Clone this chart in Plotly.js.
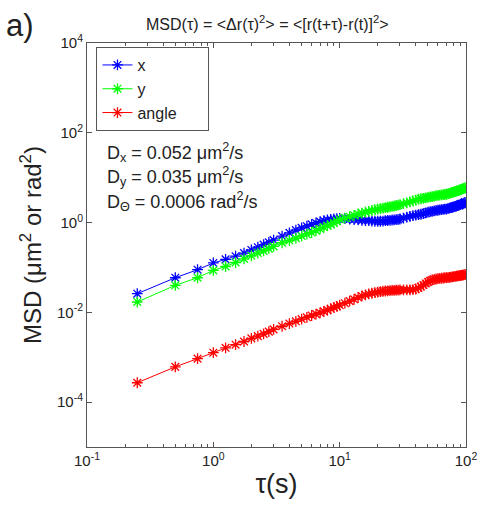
<!DOCTYPE html>
<html>
<head>
<meta charset="utf-8">
<script src="https://cdn.plot.ly/plotly-3.0.1.min.js"></script>
<style>html,body{margin:0;padding:0;background:#fff;}#chart{width:479px;height:505px;}</style>
</head>
<body>
<div id="chart"></div>
<script>
// lag times tau (s)
const tau = [0.25,0.5,0.75,1,1.25,1.5,1.75,2,2.25,2.5,2.75,3,
  3.5,4,4.5,5,5.5,6,6.5,7,7.5,8,8.5,9,9.5,10,
  11,12,13,14,15,16,17,18,19,20,21,22,23,24,25,26,27,28,29,30,
  32,34,36,38,40,42,44,46,48,50,52,54,56,58,60,62,64,66,68,70,
  72,74,76,78,80,82,84,86,88,90,92,94,96,98,100];

// MSD of x (um^2)
const msdX = [0.026,0.059,0.089,0.126,0.151,0.178,0.209,0.245,0.282,0.324,0.363,0.407,
  0.50,0.59,0.68,0.76,0.83,0.91,0.98,1.05,1.10,1.15,1.17,1.20,1.22,1.23,
  1.22,1.20,1.17,1.15,1.12,1.11,1.10,1.08,1.07,1.07,1.07,1.08,1.10,1.11,1.12,1.14,1.15,1.16,1.17,1.20,
  1.26,1.32,1.38,1.43,1.46,1.50,1.53,1.58,1.64,1.70,1.74,1.78,1.82,1.86,1.88,1.91,1.95,1.97,2.00,2.00,
  2.04,2.09,2.14,2.19,2.24,2.29,2.34,2.40,2.45,2.51,2.63,2.57,2.69,2.82,2.75];

// MSD of y (um^2)
const msdY = [0.017,0.040,0.059,0.086,0.105,0.129,0.155,0.182,0.209,0.234,0.263,0.295,
  0.355,0.398,0.447,0.50,0.55,0.60,0.66,0.72,0.79,0.85,0.91,0.98,1.07,1.17,
  1.26,1.35,1.45,1.55,1.62,1.70,1.78,1.86,1.93,2.00,2.04,2.09,2.14,2.19,2.24,2.29,2.34,2.40,2.45,2.51,
  2.63,2.75,2.88,3.02,3.16,3.31,3.39,3.47,3.55,3.63,3.72,3.80,3.89,3.98,4.03,4.07,4.12,4.17,4.22,4.27,
  4.37,4.47,4.57,4.68,4.79,4.90,5.01,5.13,5.25,5.37,5.50,5.62,5.75,5.89,6.03];

// MSD of angle (rad^2)
const msdAngle = [0.00027,0.00061,0.00093,0.00126,0.00162,0.0019,0.00224,0.00263,0.00295,0.00331,0.00372,0.00417,
  0.0049,0.00562,0.00631,0.00708,0.00776,0.00851,0.00912,0.00977,0.0105,0.0112,0.0120,0.0129,0.0136,0.0145,
  0.0160,0.0178,0.0195,0.0214,0.0232,0.0245,0.0257,0.0266,0.0275,0.0282,0.0288,0.0295,0.0299,0.0302,0.0305,0.0309,0.0309,0.0313,0.0313,0.0316,
  0.0316,0.0316,0.0316,0.0320,0.0331,0.0350,0.0375,0.0405,0.0440,0.0475,0.0505,0.0525,0.0540,0.0553,0.0562,0.0569,0.0575,0.0582,0.0589,0.0592,
  0.0596,0.0603,0.0610,0.0617,0.0624,0.0631,0.0638,0.0646,0.0653,0.0661,0.0668,0.0676,0.0684,0.0692,0.0700];

const seriesNames = ['x','y','angle\u00a0\u00a0\u00a0\u00a0\u00a0\u00a0'];
const seriesColors = ['#0000ff','#00ff00','#ff0000'];
const yTickVals = [1e-4,1e-2,1,1e2,1e4];
const yTickText = ['10<sup>-4</sup>','10<sup>-2</sup>','10<sup>0</sup>','10<sup>2</sup>','10<sup>4</sup>'];
const xTickVals = [0.1,1,10,100];
const xTickText = ['10<sup>-1</sup>','10<sup>0</sup>','10<sup>1</sup>','10<sup>2</sup>'];

const ys = [msdX, msdY, msdAngle];
const traces = ys.map((v,i)=>({
  x: tau, y: v, name: seriesNames[i], type:'scatter', mode:'lines+markers',
  line:{color:seriesColors[i], width:1},
  marker:{symbol:'asterisk-open', size:9, color:seriesColors[i], line:{color:seriesColors[i], width:1.3}}
}));

const F = 'Arial, "Liberation Sans", sans-serif';
const axisCommon = {
  type:'log', showgrid:false, zeroline:false, showline:true, linecolor:'#555', linewidth:1,
  mirror:'ticks', ticks:'inside', ticklen:5, tickcolor:'#555',
  tickfont:{family:F, size:15, color:'#222'}
};

const layout = {
  width:479, height:505,
  margin:{l:87, r:13, t:43, b:58},
  paper_bgcolor:'#fff', plot_bgcolor:'#fff',
  font:{family:F, color:'#222'},
  showlegend:true,
  legend:{x:0.025, y:0.99, xanchor:'left', yanchor:'top', bgcolor:'#fff', bordercolor:'#555', borderwidth:1,
    font:{family:F, size:16, color:'#222'}, tracegroupgap:0},
  xaxis: Object.assign({}, axisCommon, {
    range:[-1,2], tickvals:xTickVals, ticktext:xTickText,
    minor:{ticks:'inside', ticklen:3, tickcolor:'#555', dtick:'D1'},
    title:{text:'τ(s)', font:{family:F, size:27, color:'#222'}, standoff:6}
  }),
  yaxis: Object.assign({}, axisCommon, {
    range:[-5,4], tickvals:yTickVals, ticktext:yTickText,
    title:{text:'MSD (μm<sup>2</sup> or rad<sup>2</sup>)', font:{family:F, size:24, color:'#222'}, standoff:8}
  }),
  annotations:[
    {text:'MSD(τ) = &lt;Δr(τ)<sup>2</sup>&gt; = &lt;[r(t+τ)-r(t)]<sup>2</sup>&gt;', xref:'paper', yref:'paper', x:0.5, y:1, xshift:-9, yshift:20, xanchor:'center', yanchor:'middle', showarrow:false, font:{family:F, size:16, color:'#222'}},
    {text:'a)', xref:'paper', yref:'paper', x:0, y:1, xshift:-83, yshift:18, xanchor:'left', yanchor:'middle', showarrow:false, font:{family:F, size:31, color:'#222'}},
    {text:'D<sub>x</sub> = 0.052 μm<sup>2</sup>/s', xref:'paper', yref:'paper', x:0, y:1, xshift:18, yshift:-109, xanchor:'left', yanchor:'middle', showarrow:false, font:{family:F, size:18, color:'#222'}},
    {text:'D<sub>y</sub> = 0.035 μm<sup>2</sup>/s', xref:'paper', yref:'paper', x:0, y:1, xshift:18, yshift:-133, xanchor:'left', yanchor:'middle', showarrow:false, font:{family:F, size:18, color:'#222'}},
    {text:'D<sub>Θ</sub> = 0.0006 rad<sup>2</sup>/s', xref:'paper', yref:'paper', x:0, y:1, xshift:18, yshift:-158, xanchor:'left', yanchor:'middle', showarrow:false, font:{family:F, size:18, color:'#222'}}
  ]
};

Plotly.newPlot('chart', traces, layout, {displayModeBar:false, staticPlot:true});
</script>
</body>
</html>
